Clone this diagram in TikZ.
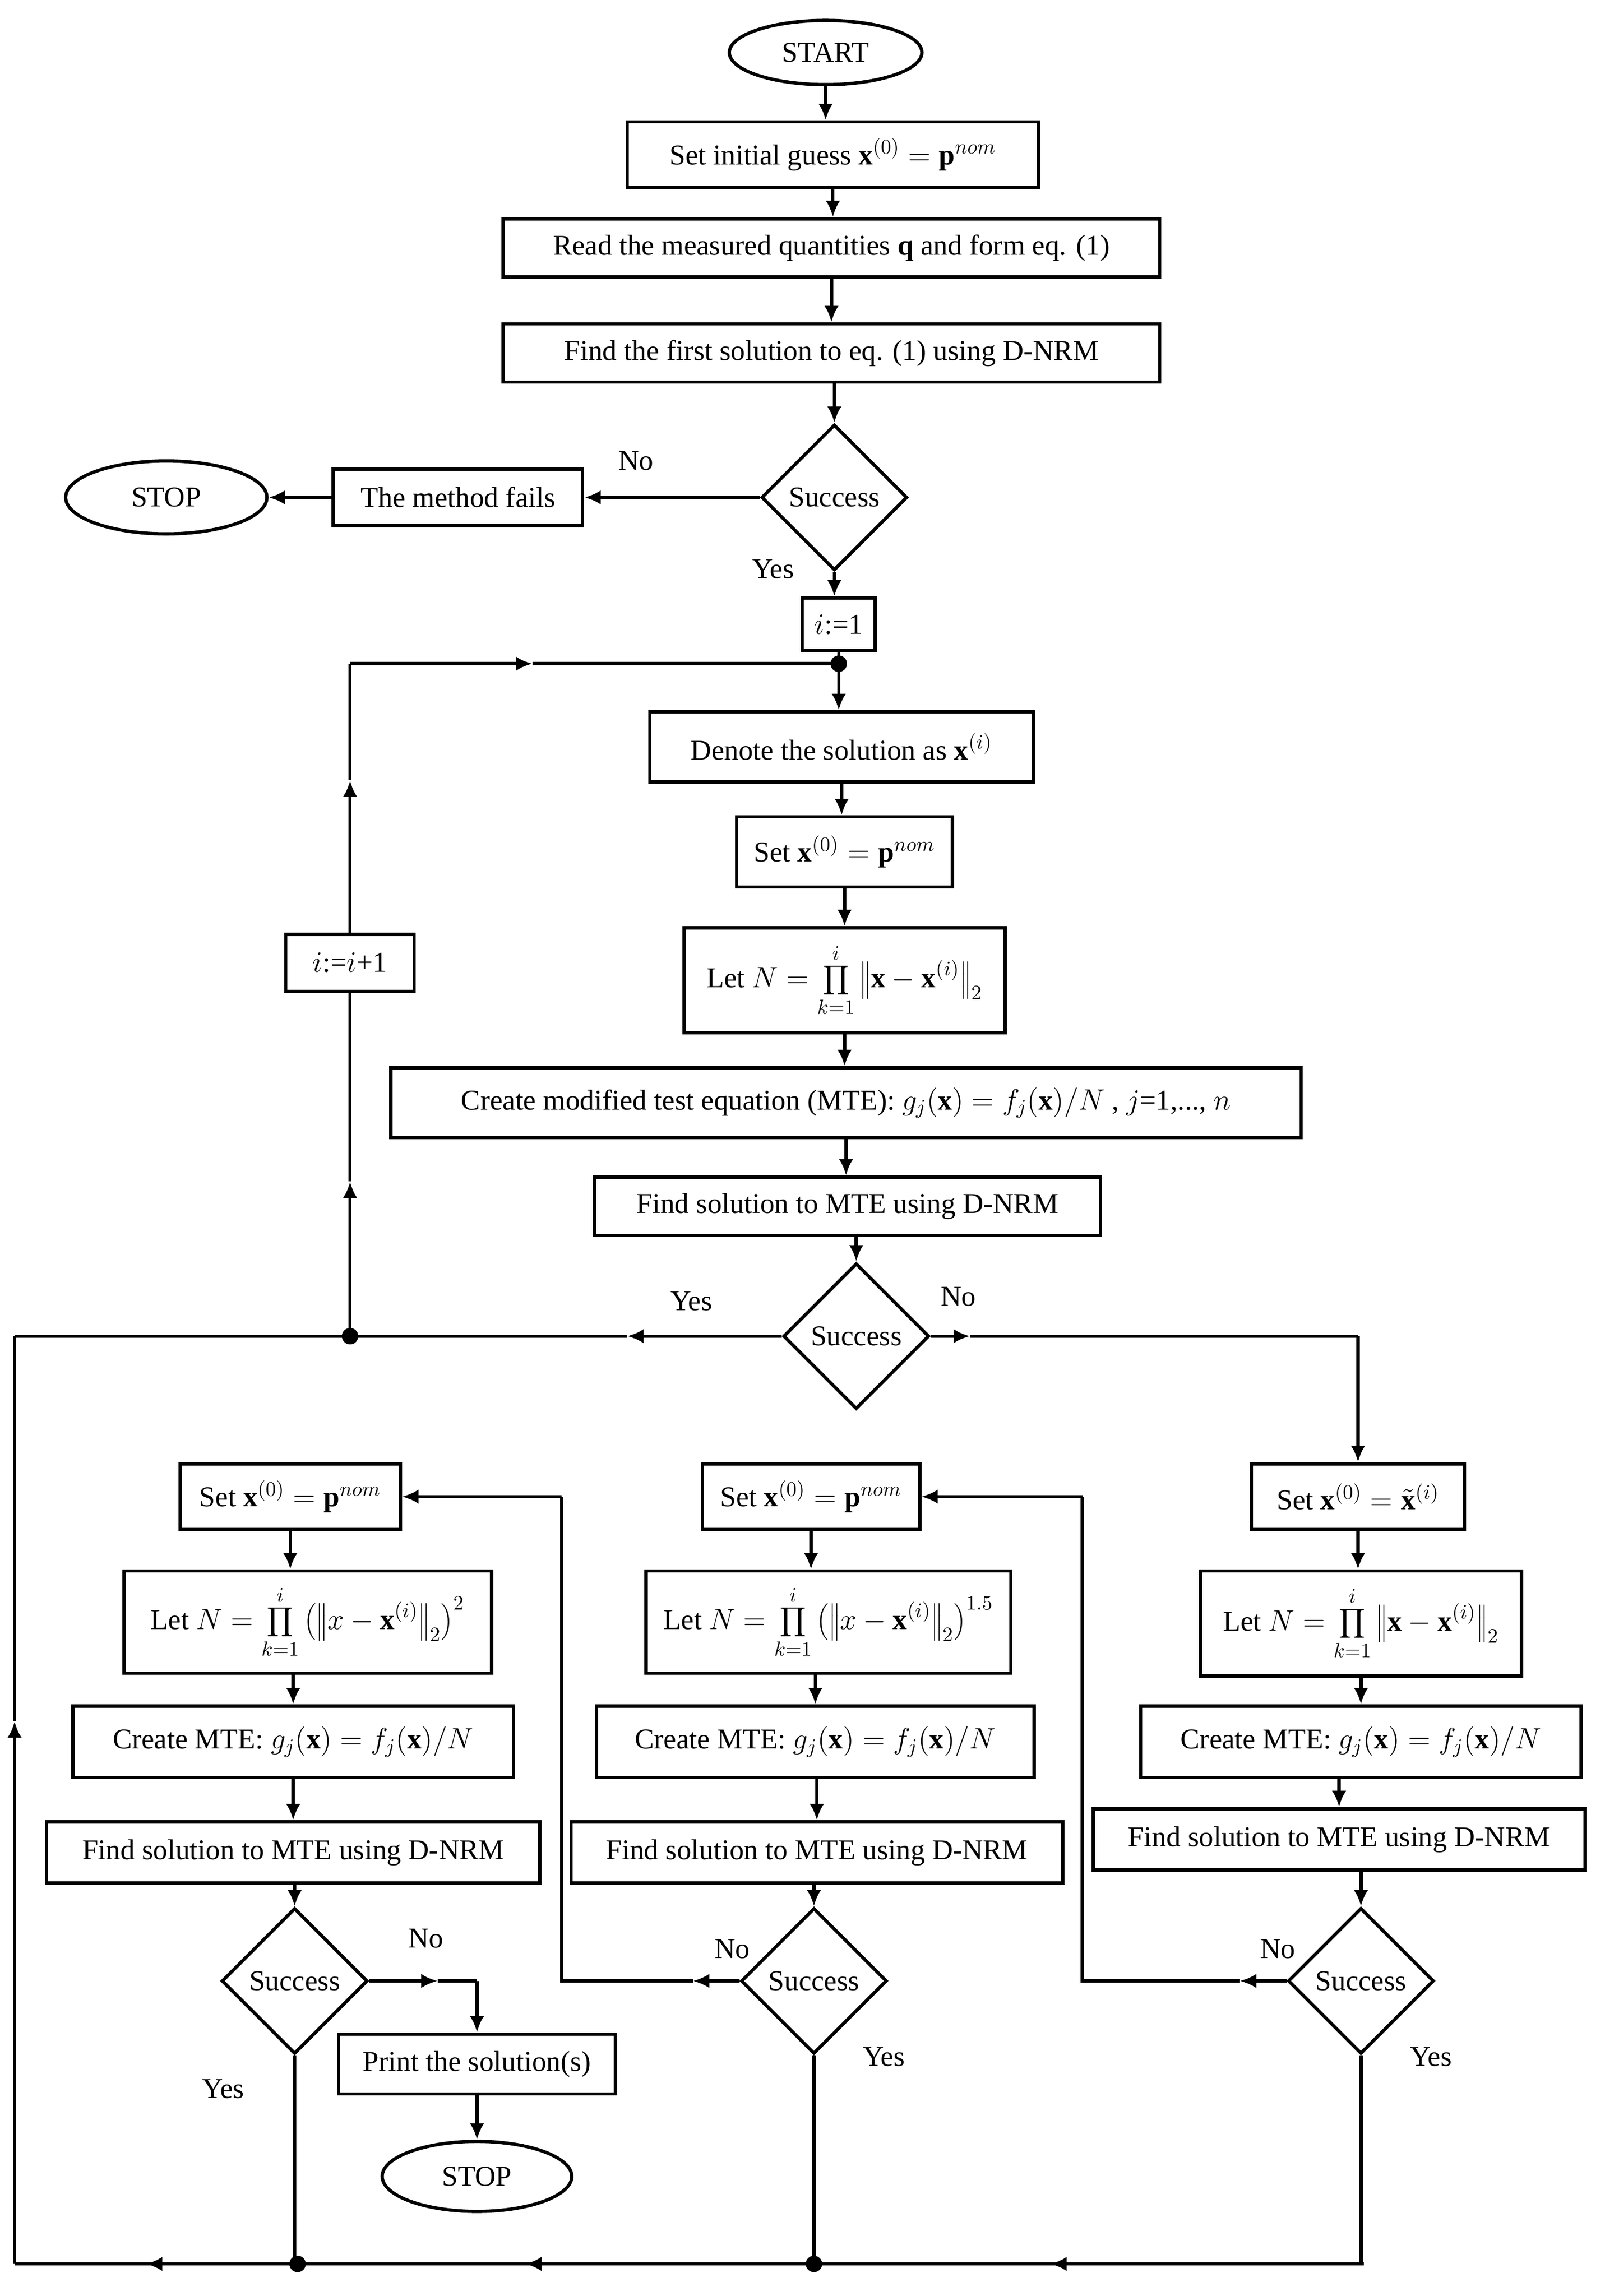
\documentclass[tikz,border=0pt]{standalone}
\usepackage{fontspec}
\setmainfont{Liberation Serif}
\usetikzlibrary{shapes.geometric,arrows.meta}
\begin{document}
\begin{tikzpicture}[x=0.25mm,y=-0.25mm,line width=1.6pt,>={Latex[length=8pt,width=7pt]},
 box/.style={draw,rectangle,inner sep=0pt,font=\fontsize{14}{16}\selectfont},
 ell/.style={draw,ellipse,inner sep=0pt,font=\fontsize{14}{16}\selectfont},
 dia/.style={draw,diamond,inner sep=0pt,minimum width=#1*0.25mm,minimum height=#1*0.25mm,aspect=1,font=\fontsize{14}{16}\selectfont},
 lab/.style={font=\fontsize{14}{16}\selectfont},
 dot/.style={circle,fill,inner sep=0pt,minimum size=8pt}]
\useasboundingbox (0,0) rectangle (1100,1574);
\node[ell,minimum width=33mm,minimum height=11mm] (start) at (566,36) {START};
\node[box,minimum width=282*0.25mm,minimum height=45*0.25mm] (init) at (571,106) {Set initial guess $\mathbf{x}^{(0)}=\mathbf{p}^{nom}$};
\node[box,minimum width=450*0.25mm,minimum height=40*0.25mm] (read) at (570,170) {Read the measured quantities $\mathbf{q}$ and form eq. (1)};
\node[box,minimum width=450*0.25mm,minimum height=40*0.25mm] (find1) at (570,242) {Find the first solution to eq. (1) using D-NRM};
\node[dia=100] (s1) at (572,341) {Success};
\node[box,minimum width=171*0.25mm,minimum height=39*0.25mm] (fails) at (314,341) {The method fails};
\node[ell,minimum width=138*0.25mm,minimum height=50*0.25mm] (stop1) at (114,341) {STOP};
\node[lab] at (436,316) {No};
\node[lab] at (530,390) {Yes};
\node[box,minimum width=50*0.25mm,minimum height=36*0.25mm] (i1) at (575,428) {$i$:=1};
\node[dot] (d1) at (575,455) {};
\node[box,minimum width=263*0.25mm,minimum height=48*0.25mm] (den) at (577,512) {Denote the solution as $\mathbf{x}^{(i)}$};
\node[box,minimum width=148*0.25mm,minimum height=48*0.25mm] (set0) at (579,584) {Set $\mathbf{x}^{(0)}=\mathbf{p}^{nom}$};
\node[box,minimum width=220*0.25mm,minimum height=72*0.25mm] (letN) at (579,672) {Let $N=\displaystyle\prod_{k=1}^{i}\left\|\mathbf{x}-\mathbf{x}^{(i)}\right\|_2$};
\node[box,minimum width=624*0.25mm,minimum height=48*0.25mm] (cre) at (580,756) {Create modified test equation (MTE): $g_j(\mathbf{x})=f_j(\mathbf{x})/N$ , $j$=1,..., $n$};
\node[box,minimum width=347*0.25mm,minimum height=40*0.25mm] (fm) at (581,827) {Find solution to MTE using D-NRM};
\node[dia=100] (s2) at (587,916) {Success};
\node[lab] at (474,892) {Yes};
\node[lab] at (657,889) {No};
\node[box,minimum width=88*0.25mm,minimum height=39*0.25mm] (ii) at (240,660) {$i$:=$i$+1};
\node[dot] (d2) at (240,916) {};
% columns
\node[box,minimum width=151*0.25mm,minimum height=45*0.25mm] (setL) at (199,1026) {Set $\mathbf{x}^{(0)}=\mathbf{p}^{nom}$};
\node[box,minimum width=252*0.25mm,minimum height=70*0.25mm] (letL) at (211,1112) {Let $N=\displaystyle\prod_{k=1}^{i}\left(\left\|x-\mathbf{x}^{(i)}\right\|_2\right)^2$};
\node[box,minimum width=302*0.25mm,minimum height=49*0.25mm] (creL) at (201,1194) {Create MTE: $g_j(\mathbf{x})=f_j(\mathbf{x})/N$};
\node[box,minimum width=338*0.25mm,minimum height=42*0.25mm] (fL) at (201,1270) {Find solution to MTE using D-NRM};
\node[dia=100] (sL) at (202,1358) {Success};
\node[lab] at (292,1329) {No};
\node[lab] at (153,1432) {Yes};
\node[box,minimum width=190*0.25mm,minimum height=41*0.25mm] (pr) at (327,1415) {Print the solution(s)};
\node[ell,minimum width=130*0.25mm,minimum height=48*0.25mm] (stop2) at (327,1492) {STOP};
\node[box,minimum width=149*0.25mm,minimum height=45*0.25mm] (setM) at (556,1026) {Set $\mathbf{x}^{(0)}=\mathbf{p}^{nom}$};
\node[box,minimum width=250*0.25mm,minimum height=70*0.25mm] (letM) at (568,1112) {Let $N=\displaystyle\prod_{k=1}^{i}\left(\left\|x-\mathbf{x}^{(i)}\right\|_2\right)^{1.5}$};
\node[box,minimum width=300*0.25mm,minimum height=49*0.25mm] (creM) at (559,1194) {Create MTE: $g_j(\mathbf{x})=f_j(\mathbf{x})/N$};
\node[box,minimum width=337*0.25mm,minimum height=42*0.25mm] (fM) at (560,1270) {Find solution to MTE using D-NRM};
\node[dia=100] (sM) at (558,1358) {Success};
\node[lab] at (502,1336) {No};
\node[lab] at (606,1410) {Yes};
\node[box,minimum width=146*0.25mm,minimum height=45*0.25mm] (setR) at (931,1026) {Set $\mathbf{x}^{(0)}=\tilde{\mathbf{x}}^{(i)}$};
\node[box,minimum width=220*0.25mm,minimum height=72*0.25mm] (letR) at (933,1113) {Let $N=\displaystyle\prod_{k=1}^{i}\left\|\mathbf{x}-\mathbf{x}^{(i)}\right\|_2$};
\node[box,minimum width=302*0.25mm,minimum height=49*0.25mm] (creR) at (933,1194) {Create MTE: $g_j(\mathbf{x})=f_j(\mathbf{x})/N$};
\node[box,minimum width=337*0.25mm,minimum height=42*0.25mm] (fR) at (918,1261) {Find solution to MTE using D-NRM};
\node[dia=100] (sR) at (933,1358) {Success};
\node[lab] at (876,1336) {No};
\node[lab] at (981,1410) {Yes};
% main edges
\draw[->] (start)--(start|-init.north);
\draw[->] (init)--(init|-read.north);
\draw[->] (read)--(read|-find1.north);
\draw[->] (find1.south-|s1)--(s1.north);
\draw[->] (s1.west)--(fails);
\draw[->] (fails)--(stop1);
\draw[->] (s1)--(s1|-i1.north);
\draw (i1)--(d1.center);
\draw[->] (d1.center)--(d1|-den.north);
\draw[->] (den)--(den|-set0.north);
\draw[->] (set0)--(set0|-letN.north);
\draw[->] (letN)--(letN|-cre.north);
\draw[->] (cre)--(cre|-fm.north);
\draw[->] (fm.south-|s2)--(s2.north);
% loop
\coordinate (lt) at (240,455);
\coordinate (lb) at (10,916);
\coordinate (lbb) at (10,1552);
\coordinate (rb) at (935,1552);
\draw[->] (s2.west)--(430,916);
\draw (430,916)--(lb);
\draw[->] (d2.center)--(240,810);
\draw (240,810)--(ii.south);
\draw[->] (ii.north)--(240,535);
\draw (240,535)--(lt);
\draw[->] (lt)--(365,455);
\draw (365,455)--(d1.center);
\draw[->] (lbb)--(10,1180);
\draw (10,1180)--(lb);
\draw[->] (s2.east)--(665,916);
\draw (665,916)--(931,916);
\draw[->] (931,916)--(setR.north);
% bottom line
\draw (rb)--(lbb);
\foreach \x in {100,360,720} \draw[->] (\x+15,1552)--(\x,1552);
\node[dot] at (204,1552) {};
\node[dot] at (558,1552) {};
% column edges
\foreach \c in {L,M,R}{
 \draw[->] (set\c.south)--(set\c.south|-let\c.north);
 \draw[->] (let\c.south-|cre\c)--(cre\c.north);
 \draw[->] (cre\c.south-|f\c)--(f\c.north);
}
\draw[->] (fL.south-|sL)--(sL.north);
\draw[->] (fM.south-|sM)--(sM.north);
\draw[->] (fR.south-|sR)--(sR.north);
\draw (sL.south)--(sL.south|-rb);
\draw (sM.south)--(sM.south|-rb);
\draw (sR.south)--(sR.south|-rb);
\draw[->] (sL.east)--(300,1358);
\draw (300,1358)--(327,1358);
\draw[->] (327,1358)--(pr.north);
\draw[->] (pr)--(stop2);
\draw[->] (sM.west)--(475,1358);
\draw (475,1358)--(385,1358)--(385,1026);
\draw[->] (385,1026)--(setL.east);
\draw[->] (sR.west)--(850,1358);
\draw (850,1358)--(742,1358)--(742,1026);
\draw[->] (742,1026)--(setM.east);
\end{tikzpicture}
\end{document}
